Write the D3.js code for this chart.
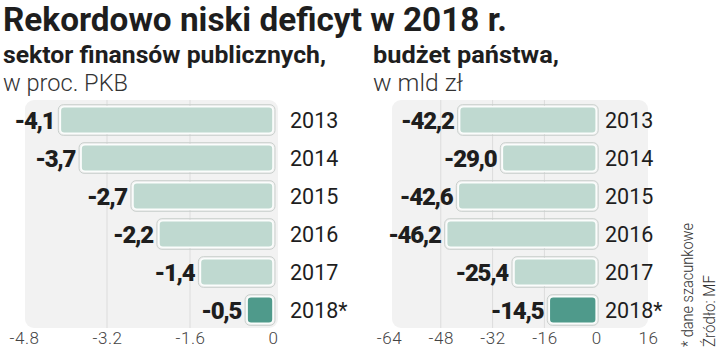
<!DOCTYPE html>
<html>
<head>
<meta charset="utf-8">
<script src="https://cdn.jsdelivr.net/npm/d3@7"></script>
<style>
  html, body { margin: 0; padding: 0; background: #fff; }
  svg { display: block; font-family: Roboto, "Noto Sans", sans-serif; }
</style>
</head>
<body>
<svg id="chart" width="720" height="349"></svg>
<script>
// Years shown in both panels
const years = ["2013", "2014", "2015", "2016", "2017", "2018*"];
// General government deficit, % of GDP
const sectorValues = [-4.1, -3.7, -2.7, -2.2, -1.4, -0.5];
// State budget deficit, PLN bn
const budgetValues = [-42.2, -29.0, -42.6, -46.2, -25.4, -14.5];
// Axis tick labels
const sectorTicks = [-4.8, -3.2, -1.6, 0];
const budgetTicks = [-64, -48, -32, -16, 0, 16];

const svg = d3.select("#chart");
const ink = "#1e1e1e";

function fit(sel, w) {
  sel.each(function () {
    const len = this.getComputedTextLength();
    if (len > 0) d3.select(this).attr("textLength", w).attr("lengthAdjust", "spacingAndGlyphs");
  });
}

// Titles
svg.append("text").attr("x", 3).attr("y", 31)
  .attr("font-size", 34).attr("font-weight", 700).attr("fill", ink)
  .text("Rekordowo niski deficyt w 2018 r.").call(fit, 504);

const heads = [
  { x: 3, t1: "sektor finansów publicznych,", w1: 323, t2: "w proc. PKB", w2: 125 },
  { x: 373, t1: "budżet państwa,", w1: 186, t2: "w mld zł", w2: 90 }
];
heads.forEach(h => {
  svg.append("text").attr("x", h.x).attr("y", 63)
    .attr("font-size", 24).attr("font-weight", 700).attr("fill", ink)
    .text(h.t1).call(fit, h.w1);
  svg.append("text").attr("x", h.x).attr("y", 91)
    .attr("font-size", 23).attr("font-weight", 300).attr("fill", "#333")
    .text(h.t2).call(fit, h.w2);
});

const y = d3.scaleBand().domain(years).range([101, 329]).paddingInner(0.3).paddingOuter(0.15);

function panel(opts) {
  const { x, values, ticks, grid, fmt, valueFmt, panelX0, panelX1, yearX } = opts;
  const g = svg.append("g");

  // panel background
  g.append("rect")
    .attr("x", panelX0).attr("y", 100)
    .attr("width", panelX1 - panelX0).attr("height", 228)
    .attr("rx", 9).attr("fill", "#f2f2f2");

  // gridlines
  g.selectAll("line.grid").data(grid).join("line")
    .attr("class", "grid")
    .attr("x1", d => x(d)).attr("x2", d => x(d))
    .attr("y1", 100).attr("y2", 328)
    .attr("stroke", "#dcdcdc").attr("stroke-width", 1);

  const rows = g.selectAll("g.row").data(values).join("g").attr("class", "row");

  // soft outline around each bar
  rows.append("rect")
    .attr("x", d => x(d) - 2).attr("y", (d, i) => y(years[i]) - 2)
    .attr("width", d => x(0) - x(d) + 4).attr("height", y.bandwidth() + 4)
    .attr("rx", 5).attr("fill", "none")
    .attr("stroke", "#c9cfcc").attr("stroke-width", 1);

  rows.append("rect")
    .attr("x", d => x(d)).attr("y", (d, i) => y(years[i]))
    .attr("width", d => x(0) - x(d)).attr("height", y.bandwidth())
    .attr("rx", 4)
    .attr("fill", (d, i) => i === years.length - 1 ? "#4f9a8b" : "#bfd9d0")
    .attr("stroke", "#fbfdfc").attr("stroke-width", 1.6);

  // value labels
  rows.append("text")
    .attr("x", d => x(d) - 6).attr("y", (d, i) => y(years[i]) + y.bandwidth() / 2 + 8.5)
    .attr("text-anchor", "end").attr("font-size", 24).attr("font-weight", 900)
    .attr("fill", ink).attr("letter-spacing", -1.3)
    .text(d => valueFmt(d));

  // year labels
  rows.append("text")
    .attr("x", yearX).attr("y", (d, i) => y(years[i]) + y.bandwidth() / 2 + 7.5)
    .attr("font-size", 21.5).attr("fill", ink)
    .text((d, i) => years[i]);

  // bottom axis
  const axis = d3.axisBottom(x).tickValues(ticks).tickSize(0).tickPadding(0).tickFormat(fmt);
  const ag = g.append("g").attr("transform", "translate(0,332)").call(axis);
  ag.select(".domain").remove();
  ag.selectAll("text").attr("font-size", 17).attr("font-weight", 300)
    .attr("letter-spacing", 0.6)
    .attr("fill", "#444").attr("font-family", "Roboto, sans-serif");
}

const comma = d => d.toFixed(1).replace(".", ",");

panel({
  x: d3.scaleLinear().domain([-4.8, 0]).range([24, 273]),
  values: sectorValues, ticks: sectorTicks, grid: [-3.2, -1.6],
  fmt: d => d === 0 ? "0" : d.toFixed(1), valueFmt: comma,
  panelX0: 25, panelX1: 278, yearX: 290
});

panel({
  x: d3.scaleLinear().domain([-64, 16]).range([389, 648]),
  values: budgetValues, ticks: budgetTicks, grid: [-48, -32, -16],
  fmt: d => String(d), valueFmt: comma,
  panelX0: 392, panelX1: 648, yearX: 605
});

// Footnotes, set vertically
const notes = [{ x: 693, t: "* dane szacunkowe", w: 124 }, { x: 715, t: "Źródło: MF", w: 72 }];
notes.forEach(n => {
  svg.append("text")
    .attr("transform", `translate(${n.x},347) rotate(-90)`)
    .attr("font-size", 17).attr("font-weight", 300).attr("fill", "#333")
    .text(n.t).call(fit, n.w);
});
</script>
</body>
</html>
